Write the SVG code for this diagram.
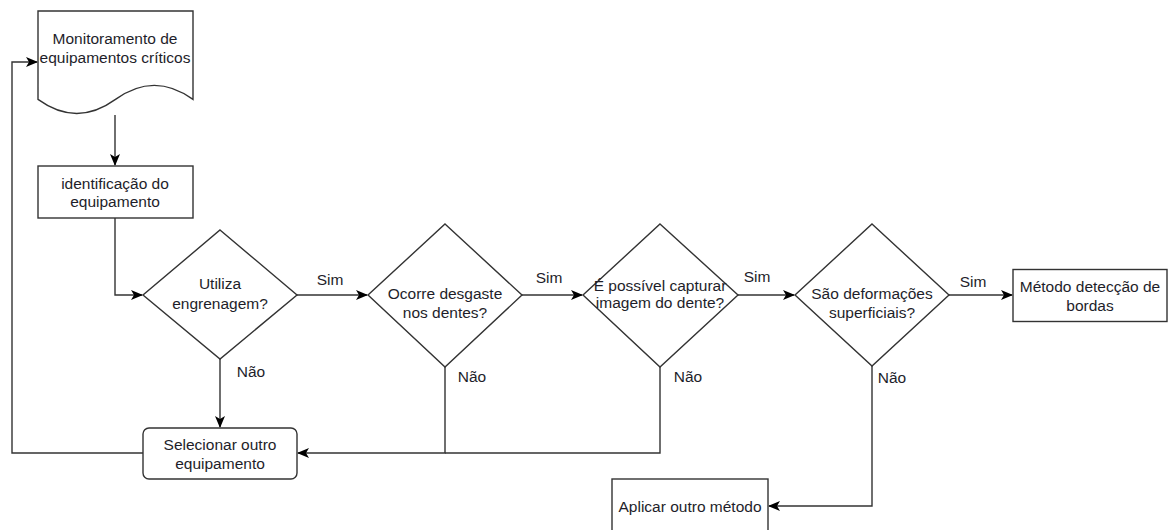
<svg xmlns="http://www.w3.org/2000/svg" width="1168" height="530" viewBox="0 0 1168 530">
<defs>
<marker id="arr" viewBox="0 0 12 10" refX="11" refY="5" markerWidth="12" markerHeight="10" markerUnits="userSpaceOnUse" orient="auto">
<path d="M0,0 L12,5 L0,10 L3,5 Z" fill="#000"/>
</marker>
<style>
.shape{fill:#fff;stroke:#333;stroke-width:1.4}
.edge{fill:none;stroke:#333;stroke-width:1.4}
text{font-family:"Liberation Sans",Arial,sans-serif;font-size:15.5px;fill:#1e1e2a;text-anchor:middle}
</style>
</defs>
<rect width="1168" height="530" fill="#fff"/>
<g id="connectors">
<path class="edge" d="M115,115 V165" marker-end="url(#arr)"/>
<path class="edge" d="M115,218 V295 H142" marker-end="url(#arr)"/>
<path class="edge" d="M297,295 H367" marker-end="url(#arr)"/>
<path class="edge" d="M522,295 H582" marker-end="url(#arr)"/>
<path class="edge" d="M738,295 H794" marker-end="url(#arr)"/>
<path class="edge" d="M949,295 H1012" marker-end="url(#arr)"/>
<path class="edge" d="M220,359 V427" marker-end="url(#arr)"/>
<path class="edge" d="M445,367 V453 H298" marker-end="url(#arr)"/>
<path class="edge" d="M660,367 V453 H445"/>
<path class="edge" d="M872,366 V506 H769" marker-end="url(#arr)"/>
<path class="edge" d="M143,453 H12 V62 H37" marker-end="url(#arr)"/>
<text x="330" y="285">Sim</text>
<text x="549" y="283">Sim</text>
<text x="757" y="282">Sim</text>
<text x="973" y="287">Sim</text>
<text x="251" y="377">Não</text>
<text x="472" y="382">Não</text>
<text x="688" y="382">Não</text>
<text x="892" y="383">Não</text>
</g>
<g id="n_monitoramento">
<path class="shape" d="M38,11 H193 V99.4 Q154.25,71.3 115.5,99.4 Q76.75,127.5 38,99.4 Z"/>
<text x="115" y="43.5">Monitoramento de</text>
<text x="115" y="62.5">equipamentos críticos</text>
</g>
<g id="n_identificacao">
<rect class="shape" x="38" y="166" width="155" height="52"/>
<text x="115" y="188.5">identificação do</text>
<text x="115" y="206.5">equipamento</text>
</g>
<g id="n_utiliza">
<path class="shape" d="M220,230 L297,295 L220,359 L143,295 Z"/>
<text x="220" y="288.5">Utiliza</text>
<text x="220" y="308.5">engrenagem?</text>
</g>
<g id="n_desgaste">
<path class="shape" d="M445,224 L522,295 L445,367 L368,295 Z"/>
<text x="445" y="298.5">Ocorre desgaste</text>
<text x="445" y="317.5">nos dentes?</text>
</g>
<g id="n_capturar">
<path class="shape" d="M660,224 L738,295 L660,367 L583,295 Z"/>
<text x="660" y="290.5">É possível capturar</text>
<text x="660" y="307.5">imagem do dente?</text>
</g>
<g id="n_superficiais">
<path class="shape" d="M872,224 L949,295 L872,366 L795,295 Z"/>
<text x="872" y="298.5">São deformações</text>
<text x="872" y="317.5">superficiais?</text>
</g>
<g id="n_bordas">
<rect class="shape" x="1013" y="269.5" width="154" height="52"/>
<text x="1090" y="291.5">Método detecção de</text>
<text x="1090" y="310.5">bordas</text>
</g>
<g id="n_selecionar">
<rect class="shape" x="143" y="428" width="154" height="51" rx="6"/>
<text x="220" y="449.5">Selecionar outro</text>
<text x="220" y="468.5">equipamento</text>
</g>
<g id="n_aplicar">
<rect class="shape" x="612" y="479" width="156" height="54"/>
<text x="690" y="511.5">Aplicar outro método</text>
</g>
</svg>
